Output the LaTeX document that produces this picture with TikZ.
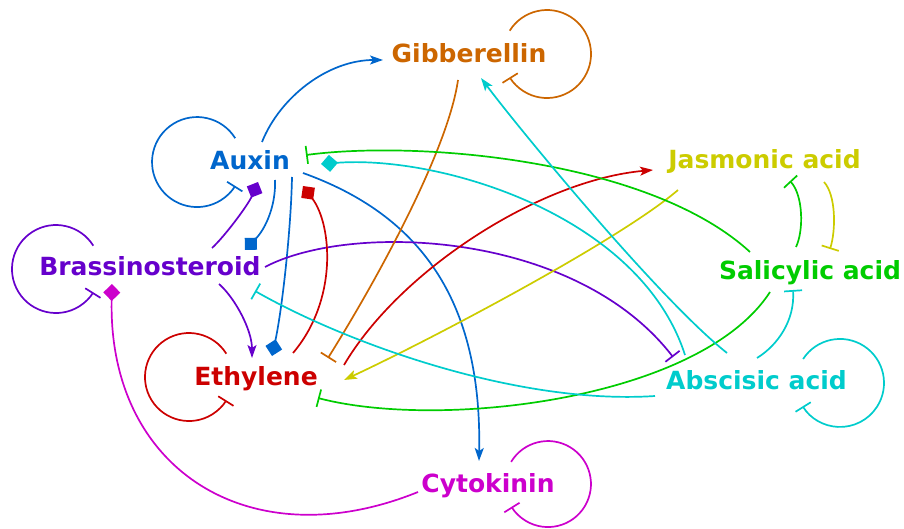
\documentclass[tikz,border=0pt]{standalone}
\usepackage{fontspec}
\setmainfont{DejaVu Sans}
\usetikzlibrary{arrows.meta,calc}

\definecolor{cGib}{HTML}{CC6600}
\definecolor{cAux}{HTML}{0066CC}
\definecolor{cJas}{HTML}{CCCC00}
\definecolor{cBra}{HTML}{6600CC}
\definecolor{cSal}{HTML}{00CC00}
\definecolor{cEth}{HTML}{CC0000}
\definecolor{cAba}{HTML}{00CCCC}
\definecolor{cCyt}{HTML}{CC00CC}

\tikzset{
  hormone/.style={font=\fontsize{25}{30}\selectfont\bfseries, anchor=base, inner sep=0pt},
  link/.style={line width=1.7pt},
  promotes/.style={link, -{Stealth[length=13pt,width=9pt,inset=3pt]}},
  represses/.style={link, -{Bar[width=18pt]}},
  binds/.style={link, -{Diamond[length=17pt,width=17pt]}},
}

\begin{document}
\begin{tikzpicture}[x=1pt,y=1pt]
\useasboundingbox (0,0) rectangle (904,-529);

% hormones
\node[hormone, text=cGib] (gib) at (469,-63)   {Gibberellin};
\node[hormone, text=cAux] (aux) at (250,-170)  {Auxin};
\node[hormone, text=cJas] (jas) at (764.5,-169) {Jasmonic acid};
\node[hormone, text=cBra] (bra) at (150,-275)  {Brassinosteroid};
\node[hormone, text=cSal] (sal) at (810,-279)  {Salicylic acid};
\node[hormone, text=cEth] (eth) at (256,-385)  {Ethylene};
\node[hormone, text=cAba] (aba) at (756.5,-389) {Abscisic acid};
\node[hormone, text=cCyt] (cyt) at (488,-492)  {Cytokinin};

% self-repression loops
\draw[represses, cAux] ($(aux.base)+(-14.8,31.8)$) arc[start angle=32, end angle=328, radius=45];
\draw[represses, cBra] ($(bra.base)+(-56.7,29.3)$) arc[start angle=32, end angle=328, radius=44];
\draw[represses, cEth] ($(eth.base)+(-29.7,31.3)$) arc[start angle=32, end angle=328, radius=44];
\draw[represses, cGib] ($(gib.base)+(40.7,32.3)$) arc[start angle=148, end angle=-148, radius=44];
\draw[represses, cAba] ($(aba.base)+(46.6,30)$) arc[start angle=147, end angle=-148, radius=44];
\draw[represses, cCyt] ($(cyt.base)+(23.1,30.1)$) arc[start angle=149, end angle=-148, radius=43];

% auxin
\draw[promotes, cAux] ($(aux.base)+(12,28)$) .. controls +(18,45) and +(-55,0) .. ($(gib.base)+(-86,3)$);
\draw[binds, cAux] ($(aux.base)+(25,-10)$) .. controls +(1,-25) and +(21,22) .. ($(bra.base)+(95,25)$);
\draw[binds, cAux] ($(aux.base)+(42,-7)$) .. controls +(-1,-53) and +(10,46) .. ($(eth.base)+(16,29)$);
\draw[promotes, cAux] ($(aux.base)+(53,-3)$) .. controls +(117,-42) and +(3,161) .. ($(cyt.base)+(-9,31)$);

% brassinosteroid
\draw[binds, cBra] ($(bra.base)+(62,27)$) .. controls +(13,12) and +(-10,-23) .. ($(aux.base)+(8,-12)$);
\draw[promotes, cBra] ($(bra.base)+(69,-9)$) .. controls +(16,-14) and +(0,28) .. ($(eth.base)+(-4,27)$);
\draw[represses, cBra] ($(bra.base)+(115,8)$) .. controls +(85,45) and +(-98,127) .. ($(aba.base)+(-83.5,32)$);

% ethylene
\draw[binds, cEth] ($(eth.base)+(37,32)$) .. controls +(45,53) and +(29,-39) .. ($(aux.base)+(53,-16)$);
\draw[promotes, cEth] ($(eth.base)+(88,20)$) .. controls +(56,95) and +(-113,-10) .. ($(jas.base)+(-111.5,-1)$);

% gibberellin
\draw[represses, cGib] ($(gib.base)+(-11,-17)$) .. controls +(-10,-70) and +(50,80) .. ($(eth.base)+(72,27)$);

% jasmonic acid
\draw[represses, cJas] ($(jas.base)+(59.5,-13)$) .. controls +(12,-13) and +(6,19) .. ($(sal.base)+(20,30)$);
\draw[promotes, cJas] ($(jas.base)+(-86.5,-21)$) .. controls +(-58,-50) and +(86,40) .. ($(eth.base)+(88,5)$);

% salicylic acid
\draw[represses, cSal] ($(sal.base)+(-14,32)$) .. controls +(8,17) and +(13,-14) .. ($(jas.base)+(25.5,-12)$);
\draw[represses, cSal] ($(sal.base)+(-60,27)$) .. controls +(-100,92) and +(114,15) .. ($(aux.base)+(56,15)$);
\draw[represses, cSal] ($(sal.base)+(-40,-13)$) .. controls +(-70,-108) and +(122,-32) .. ($(eth.base)+(62,-13)$);

% abscisic acid
\draw[binds, cAba] ($(aba.base)+(-71.5,34)$) .. controls +(-45,140) and +(119,9) .. ($(aux.base)+(71,6)$);
\draw[promotes, cAba] ($(aba.base)+(-29.5,36)$) .. controls +(-67,53) and +(39,-52) .. ($(gib.base)+(12,-15)$);
\draw[represses, cAba] ($(aba.base)+(-101.5,-7)$) .. controls +(-135,-9) and +(95,-54) .. ($(bra.base)+(105,-16)$);
\draw[represses, cAba] ($(aba.base)+(0.5,31)$) .. controls +(21,13) and +(2,-30) .. ($(sal.base)+(-17,-11)$);

% cytokinin
\draw[binds, cCyt] ($(cyt.base)+(-70,0)$) .. controls +(-168,-68) and +(-4,-186) .. ($(bra.base)+(-38,-9)$);
\end{tikzpicture}
\end{document}
